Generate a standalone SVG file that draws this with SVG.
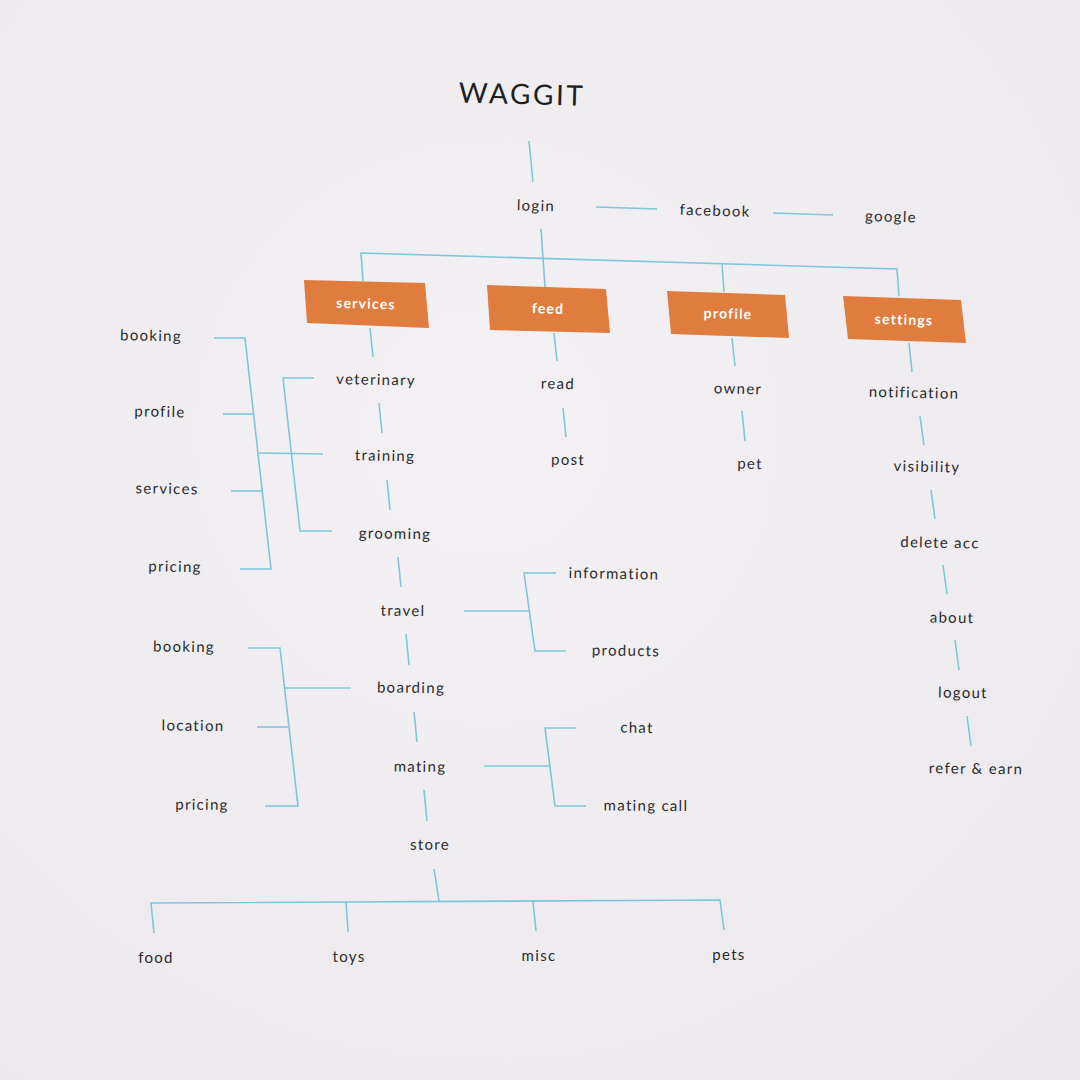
<svg xmlns="http://www.w3.org/2000/svg" width="1080" height="1080" viewBox="0 0 1080 1080">
<defs>
<radialGradient id="bg" cx="0.45" cy="0.4" r="0.8">
<stop offset="0" stop-color="#f3f1f4"/>
<stop offset="1" stop-color="#ebe8ec"/>
</radialGradient>
<style>
.t{font-family:"Lato","Noto Sans",sans-serif;font-size:15px;fill:#2b2b2d;letter-spacing:1.3px;text-anchor:middle;dominant-baseline:middle}
.b{font-family:"Lato","Noto Sans",sans-serif;font-size:14px;font-weight:700;fill:#ffffff;letter-spacing:1.2px;text-anchor:middle;dominant-baseline:middle}
.box{fill:#e07c3d}
.c line,.c polyline{stroke:#7fc6d7;stroke-width:1.6;fill:none}
</style>
</defs>
<rect width="1080" height="1080" fill="url(#bg)"/>
<text x="522" y="97" font-family="Lato, 'Noto Sans', sans-serif" font-size="28" fill="#1f1f22" letter-spacing="2.5" text-anchor="middle" dominant-baseline="middle" transform="rotate(1.5 522 97)">WAGGIT</text>

<g class="c" id="connectors">
<line x1="529" y1="141" x2="533" y2="182"/>
<line x1="596" y1="207" x2="657" y2="209"/>
<line x1="773" y1="213" x2="833" y2="215"/>
<line x1="541" y1="229" x2="545" y2="287"/>
<polyline points="363,281 361,253 897,269 899,296"/>
<line x1="722" y1="264" x2="724" y2="292"/>
<line x1="370" y1="328" x2="373" y2="357"/>
<line x1="554" y1="333" x2="557" y2="361"/>
<line x1="732" y1="338" x2="735" y2="366"/>
<line x1="909" y1="343" x2="912" y2="372"/>
<!-- services column -->
<line x1="379" y1="403" x2="382" y2="433"/>
<line x1="387" y1="480" x2="390" y2="510"/>
<line x1="398" y1="557" x2="401" y2="587"/>
<line x1="406" y1="634" x2="409" y2="665"/>
<line x1="414" y1="712" x2="417" y2="742"/>
<line x1="424" y1="790" x2="427" y2="821"/>
<line x1="434" y1="869" x2="439" y2="901"/>
<!-- vet bracket -->
<polyline points="314,378 283,378 300,531 332,531"/>
<line x1="259" y1="453" x2="323" y2="454"/>
<!-- outer bracket -->
<polyline points="214,338 245,338 271,569 240,569"/>
<line x1="223" y1="414" x2="254" y2="414"/>
<line x1="231" y1="491" x2="262" y2="491"/>
<!-- boarding bracket -->
<polyline points="248,648 280,648 298,806 265,806"/>
<line x1="257" y1="727" x2="288" y2="727"/>
<line x1="285" y1="688" x2="351" y2="688"/>
<!-- travel bracket -->
<polyline points="556,573 524,573 535,651 566,651"/>
<line x1="464" y1="611" x2="530" y2="611"/>
<!-- mating bracket -->
<polyline points="576,728 545,728 555,806 586,806"/>
<line x1="484" y1="766" x2="549" y2="766"/>
<!-- feed / profile -->
<line x1="563" y1="408" x2="566" y2="437"/>
<line x1="742" y1="411" x2="745" y2="441"/>
<!-- settings -->
<line x1="920" y1="416" x2="924" y2="445"/>
<line x1="931" y1="490" x2="935" y2="519"/>
<line x1="943" y1="565" x2="947" y2="594"/>
<line x1="955" y1="640" x2="959" y2="670"/>
<line x1="967" y1="716" x2="971" y2="746"/>
<!-- store -->
<polyline points="154,933 151,903 720,900 724,930"/>
<line x1="346" y1="902" x2="348" y2="932"/>
<line x1="533" y1="901" x2="536" y2="931"/>
</g>

<g id="login"><text class="t" x="536" y="207" transform="rotate(1.5 536 207)">login</text></g>
<g id="facebook"><text class="t" x="715" y="212" transform="rotate(1.5 715 212)">facebook</text></g>
<g id="google"><text class="t" x="891" y="218" transform="rotate(1.5 891 218)">google</text></g>

<g id="services"><polygon class="box" points="304,280 425,283 429,328 307,323"/><text class="b" x="366" y="305" transform="rotate(1.5 366 305)">services</text></g>
<g id="feed"><polygon class="box" points="487,285 606,289 610,333 490,330"/><text class="b" x="548" y="310" transform="rotate(1.5 548 310)">feed</text></g>
<g id="profile"><polygon class="box" points="667,291 785,295 789,338 671,334"/><text class="b" x="728" y="315" transform="rotate(1.5 728 315)">profile</text></g>
<g id="settings"><polygon class="box" points="843,296 961,300 966,343 848,339"/><text class="b" x="904" y="321" transform="rotate(1.5 904 321)">settings</text></g>

<g id="veterinary"><text class="t" x="376" y="381" transform="rotate(1.2 376 381)">veterinary</text></g>
<g id="training"><text class="t" x="385" y="457" transform="rotate(1.2 385 457)">training</text></g>
<g id="grooming"><text class="t" x="395" y="535" transform="rotate(1 395 535)">grooming</text></g>
<g id="travel"><text class="t" x="403" y="612" transform="rotate(0.9 403 612)">travel</text></g>
<g id="boarding"><text class="t" x="411" y="689" transform="rotate(0.7 411 689)">boarding</text></g>
<g id="mating"><text class="t" x="420" y="768" transform="rotate(0.5 420 768)">mating</text></g>
<g id="store"><text class="t" x="430" y="846" transform="rotate(0.3 430 846)">store</text></g>

<g id="booking1"><text class="t" x="151" y="337" transform="rotate(1.2 151 337)">booking</text></g>
<g id="profile1"><text class="t" x="160" y="413" transform="rotate(1.2 160 413)">profile</text></g>
<g id="services1"><text class="t" x="167" y="490" transform="rotate(1 167 490)">services</text></g>
<g id="pricing1"><text class="t" x="175" y="568" transform="rotate(1 175 568)">pricing</text></g>

<g id="booking2"><text class="t" x="184" y="648" transform="rotate(0.7 184 648)">booking</text></g>
<g id="location"><text class="t" x="193" y="727" transform="rotate(0.6 193 727)">location</text></g>
<g id="pricing2"><text class="t" x="202" y="806" transform="rotate(0.5 202 806)">pricing</text></g>

<g id="information"><text class="t" x="614" y="575" transform="rotate(1 614 575)">information</text></g>
<g id="products"><text class="t" x="626" y="652" transform="rotate(0.8 626 652)">products</text></g>
<g id="chat"><text class="t" x="637" y="729" transform="rotate(0.6 637 729)">chat</text></g>
<g id="matingcall"><text class="t" x="646" y="807" transform="rotate(0.5 646 807)">mating call</text></g>

<g id="read"><text class="t" x="558" y="385" transform="rotate(1.3 558 385)">read</text></g>
<g id="post"><text class="t" x="568" y="461" transform="rotate(1.2 568 461)">post</text></g>
<g id="owner"><text class="t" x="738" y="390" transform="rotate(1.3 738 390)">owner</text></g>
<g id="pet"><text class="t" x="750" y="465" transform="rotate(1.2 750 465)">pet</text></g>

<g id="notification"><text class="t" x="914" y="394" transform="rotate(1.3 914 394)">notification</text></g>
<g id="visibility"><text class="t" x="927" y="468" transform="rotate(1.2 927 468)">visibility</text></g>
<g id="deleteacc"><text class="t" x="940" y="544" transform="rotate(1 940 544)">delete acc</text></g>
<g id="about"><text class="t" x="952" y="619" transform="rotate(0.9 952 619)">about</text></g>
<g id="logout"><text class="t" x="963" y="694" transform="rotate(0.8 963 694)">logout</text></g>
<g id="referearn"><text class="t" x="976" y="770" transform="rotate(0.6 976 770)">refer &amp; earn</text></g>

<g id="food"><text class="t" x="156" y="959">food</text></g>
<g id="toys"><text class="t" x="349" y="958">toys</text></g>
<g id="misc"><text class="t" x="539" y="957">misc</text></g>
<g id="pets"><text class="t" x="729" y="956">pets</text></g>
</svg>
